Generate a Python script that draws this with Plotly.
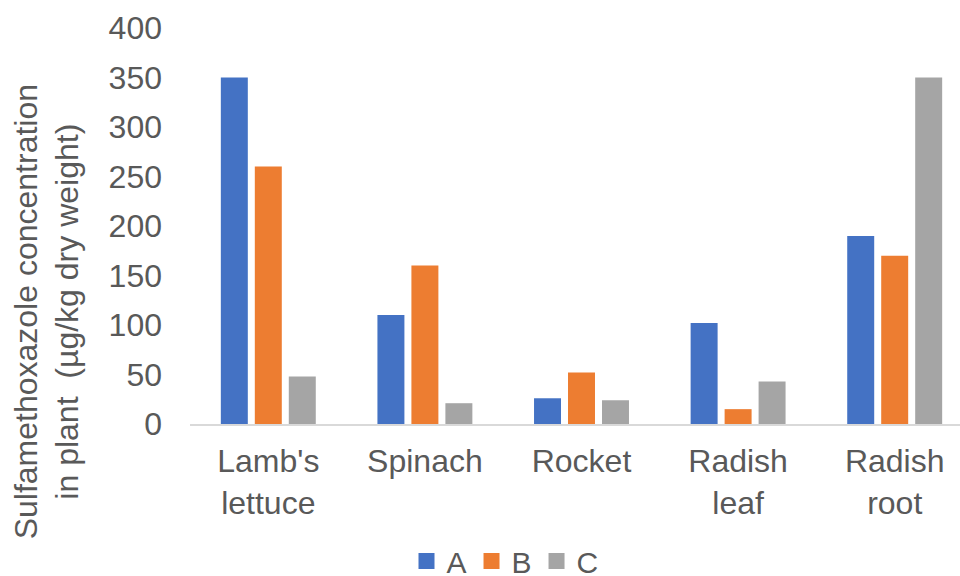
import plotly.graph_objects as go

categories = ["Lamb's<br>lettuce", "Spinach", "Rocket", "Radish<br>leaf", "Radish<br>root"]
series_names = ["A", "B", "C"]
values_A = [350, 110, 26, 102, 190]
values_B = [260, 160, 52, 15, 170]
values_C = [48, 21, 24, 43, 350]
y_ticks = [0, 50, 100, 150, 200, 250, 300, 350, 400]

colors = ["#4472C4", "#ED7D31", "#A5A5A5"]
FONT = "Liberation Sans, Arial, sans-serif"
TXT = "#595959"
FS = 32

fig = go.Figure()
for name, vals, col in zip(series_names, [values_A, values_B, values_C], colors):
    fig.add_trace(go.Bar(name=name, x=categories, y=vals, marker=dict(color=col, line=dict(width=0)),
                         showlegend=False))
for name, col in zip(series_names, colors):
    fig.add_trace(go.Scatter(name=name, x=[None], y=[None], mode="markers",
                             marker=dict(symbol="square", size=16, color=col)))

fig.update_layout(
    width=960, height=576,
    margin=dict(l=190, r=0, t=28, b=152, autoexpand=False),
    paper_bgcolor="white", plot_bgcolor="white",
    barmode="group", bargap=0.349, bargroupgap=0.206,
    font=dict(family=FONT, color=TXT, size=FS),
    legend=dict(orientation="h", xref="container", yref="container",
                x=505 / 960, xanchor="center", y=(576 - 561) / 576, yanchor="middle",
                font=dict(size=30, color=TXT), itemwidth=30, tracegroupgap=0,
                borderwidth=0),
    xaxis=dict(range=[-0.5, 4.417], showline=True, linecolor="#D9D9D9", linewidth=2,
               showgrid=False, ticks="", tickfont=dict(size=FS, color=TXT),
               ticklabelstandoff=8, fixedrange=True, automargin=False),
    yaxis=dict(range=[0, 400], tickvals=y_ticks, showgrid=False, showline=False,
               zeroline=False, ticks="", tickfont=dict(size=FS, color=TXT),
               ticklabelstandoff=27, fixedrange=True, automargin=False),
    annotations=[dict(text="Sulfamethoxazole concentration<br>in plant  (µg/kg dry weight)",
                      textangle=-90, xref="paper", yref="paper",
                      x=(47 - 190) / 770, y=(423.5 - 312) / 395.5,
                      xanchor="center", yanchor="middle", showarrow=False,
                      font=dict(size=FS, color=TXT))],
)
fig.write_html("out.html", config={"displayModeBar": False},
               post_script="document.body.style.margin='0';")
